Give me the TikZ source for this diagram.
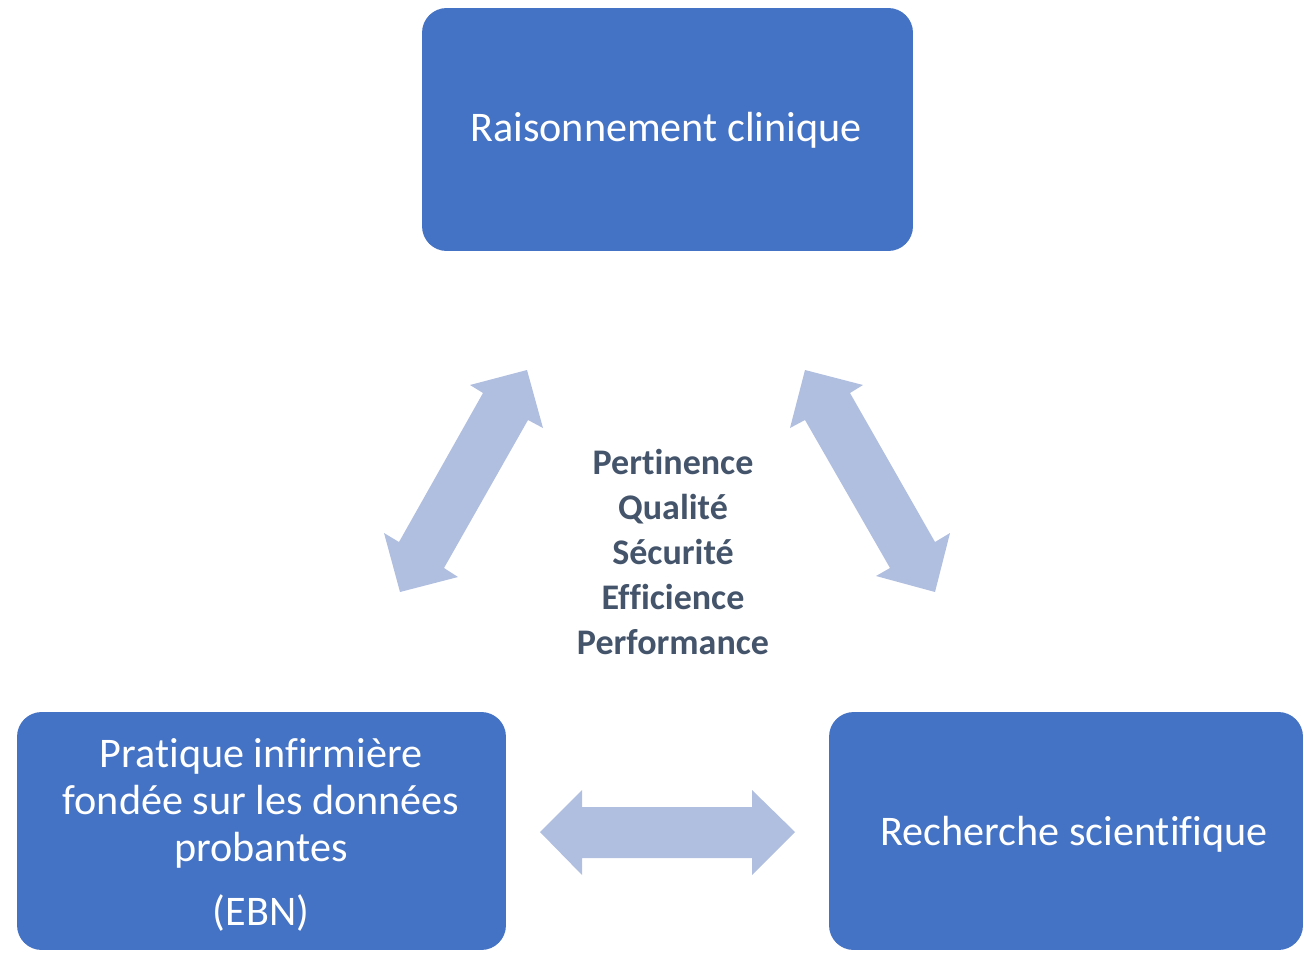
\documentclass[tikz,border=0pt]{standalone}
\usepackage{fontspec}
\setmainfont[Ligatures={NoCommon}]{Carlito}
\definecolor{boxblue}{HTML}{4472C4}
\definecolor{arrowblue}{HTML}{B0BEDF}
\definecolor{textgray}{HTML}{44546A}
\begin{document}
\begin{tikzpicture}[x=0.02cm,y=-0.02cm,
  bluebox/.style={fill=boxblue,draw=none,rounded corners=14pt,inner sep=0pt},
  boxtext/.style={text=white,align=center,inner sep=0pt,font=\fontsize{24}{26.6}\selectfont},
  blockarrow/.style={fill=arrowblue,draw=none}]
\useasboundingbox (0,0) rectangle (1304,953);
\node[bluebox,minimum width=9.82cm,minimum height=4.86cm] (rc) at (667.5,129.5) {};
\node[bluebox,minimum width=9.78cm,minimum height=4.76cm] (ebn) at (261.5,831) {};
\node[bluebox,minimum width=9.48cm,minimum height=4.76cm] (rs) at (1066,831) {};
\node[boxtext] (rctext) at (666,130) {Raisonnement clinique};
\node[boxtext] (rstext) at (1074,834) {Recherche scientifique};
\node[boxtext] (ebntext) at (261,835) {Pratique infirmière\\fondée sur les données\\probantes\\[9.7pt](EBN)};
\node[text=textgray,align=center,font=\bfseries\fontsize{20.5}{25.5}\selectfont] (values) at (673,552) {Pertinence\\Qualité\\Sécurité\\Efficience\\Performance};
% left diagonal double arrow
\fill[blockarrow] (527,370) -- (543,428) -- (528,420) -- (444,568) -- (458,577) -- (400,592) -- (384,533) -- (399,542) -- (483,393) -- (470,385) -- cycle;
% right diagonal double arrow
\fill[blockarrow] (805,370) -- (863,385) -- (850,393) -- (935,542) -- (950,533) -- (935,592) -- (876,576) -- (890,568) -- (805,420) -- (790,428) -- cycle;
% horizontal double arrow
\fill[blockarrow] (540,832) -- (582,790) -- (582,807) -- (752,807) -- (752,790) -- (795,832) -- (752,875) -- (752,858) -- (582,858) -- (582,875) -- cycle;
\end{tikzpicture}
\end{document}
